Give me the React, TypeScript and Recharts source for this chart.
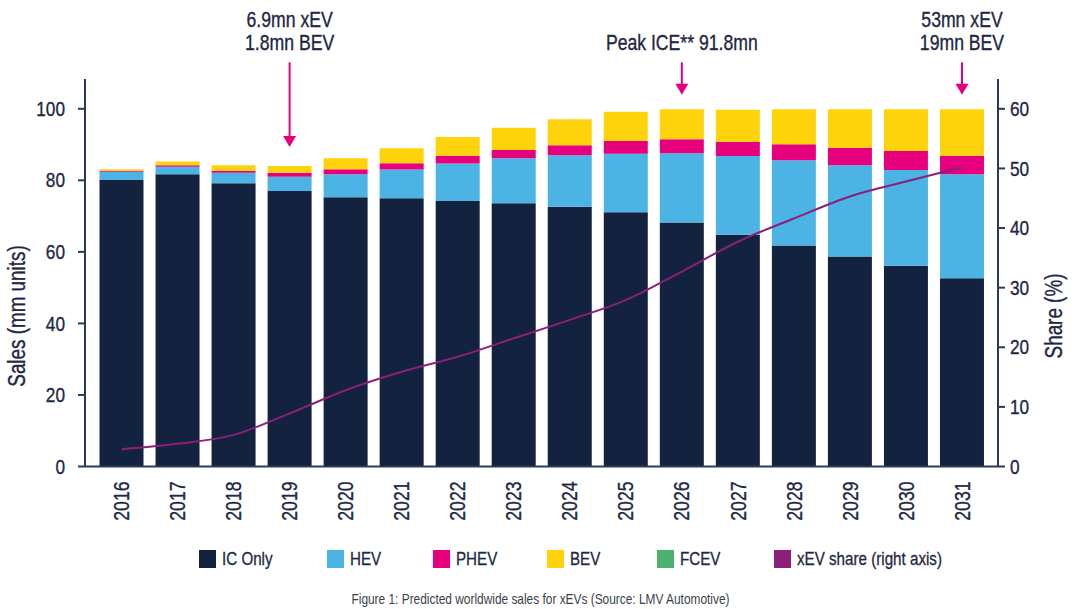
import React from "react";
import {
  Bar,
  ComposedChart,
  Legend,
  Line,
  ReferenceLine,
  XAxis,
  YAxis,
} from "recharts";

const years = [
  "2016", "2017", "2018", "2019", "2020", "2021", "2022", "2023",
  "2024", "2025", "2026", "2027", "2028", "2029", "2030", "2031",
];
// sales in mm units
const icOnly = [80.1, 81.7, 79.2, 77.0, 75.3, 75.0, 74.2, 73.6, 72.6, 71.1, 68.2, 64.8, 61.8, 58.7, 56.1, 52.6];
const hev = [2.3, 2.1, 2.9, 4.0, 6.4, 8.0, 10.5, 12.6, 14.4, 16.3, 19.4, 22.0, 23.8, 25.5, 26.8, 29.1];
const phev = [0.3, 0.4, 0.6, 1.1, 1.4, 1.8, 2.2, 2.3, 2.8, 3.6, 3.9, 3.9, 4.5, 4.9, 5.3, 5.2];
const bev = [0.4, 1.1, 1.5, 1.9, 3.1, 4.2, 5.2, 6.2, 7.3, 8.2, 8.4, 9.0, 9.8, 10.8, 11.7, 13.0];
const fcev = [0, 0, 0, 0, 0, 0, 0, 0, 0, 0, 0, 0, 0, 0, 0, 0];
// xEV share in %, right axis
const xevShare = [2.9, 3.8, 5.3, 8.9, 12.8, 15.9, 18.4, 21.5, 24.6, 27.9, 32.7, 37.7, 41.6, 45.3, 47.8, 50.2];

const salesTicks = [0, 20, 40, 60, 80, 100];
const shareTicks = [0, 10, 20, 30, 40, 50, 60];

const callouts = [
  { year: "2019", lines: ["6.9mn xEV", "1.8mn BEV"], from: 113, to: 89.3 },
  { year: "2026", lines: ["Peak ICE** 91.8mn"], from: 113, to: 103.9 },
  { year: "2031", lines: ["53mn xEV", "19mn BEV"], from: 113, to: 103.9 },
];

const NAVY = "#12223f";
const TEXT = "#1e2743";
const AXIS = "#2e3a55";
const PINK = "#e6007e";
const FONT = "'Liberation Sans', Arial, sans-serif";
// the original uses a condensed face, so squeeze the text horizontally
const SQUEEZE = 0.82;

const series = [
  { key: "ic", name: "IC Only", color: NAVY },
  { key: "hev", name: "HEV", color: "#4bb4e4" },
  { key: "phev", name: "PHEV", color: PINK },
  { key: "bev", name: "BEV", color: "#ffd30b" },
  { key: "fcev", name: "FCEV", color: "#4bb36f" },
];

const data = years.map((year, i) => ({
  year,
  ic: icOnly[i],
  hev: hev[i],
  phev: phev[i],
  bev: bev[i],
  fcev: fcev[i],
  share: xevShare[i],
}));

const NarrowText = ({ x, y, angle = 0, anchor = "start", size = 21, children }: any) => (
  <text
    transform={`translate(${x},${y}) rotate(${angle}) scale(${SQUEEZE},1)`}
    textAnchor={anchor}
    dominantBaseline="central"
    fontSize={size}
    fontFamily={FONT}
    fill={TEXT}
    stroke={TEXT}
    strokeWidth={0.35}
  >
    {children}
  </text>
);

const YearTick = ({ x, y, payload }: any) => (
  <NarrowText x={x} y={y + 15} angle={-90} anchor="end" size={21.5}>
    {payload.value}
  </NarrowText>
);

const ValueTick = ({ x, y, payload, textAnchor }: any) => (
  <NarrowText x={x} y={y} anchor={textAnchor} size={21}>
    {payload.value}
  </NarrowText>
);

const calloutShape = (lines: string[]) => (props: any) => {
  const { x1, y1, x2, y2 } = props;
  return (
    <g>
      <line x1={x1} y1={y1} x2={x2} y2={y2 - 9} stroke={PINK} strokeWidth={2} />
      <polygon
        points={`${x2 - 6.5},${y2 - 11} ${x2 + 6.5},${y2 - 11} ${x2},${y2}`}
        fill={PINK}
      />
      {lines.map((t, i) => (
        <NarrowText
          key={t}
          x={x1}
          y={y1 - 20 - (lines.length - 1 - i) * 22.5}
          anchor="middle"
          size={21.5}
        >
          {t}
        </NarrowText>
      ))}
    </g>
  );
};

const legendWidths = [128, 106, 114, 110, 117, 180];

const squeezed = {
  display: "inline-block",
  transform: `scaleX(${SQUEEZE})`,
  transformOrigin: "left center",
  whiteSpace: "nowrap" as const,
};

const LegendBox = () => {
  const items = [
    ...series.map((s) => ({ name: s.name, color: s.color })),
    { name: "xEV share (right axis)", color: "#8c1f7a" },
  ];
  return (
    <div style={{ height: 67.5, position: "relative", fontFamily: FONT }}>
      <div style={{ position: "absolute", top: 8.5, left: 199, display: "flex" }}>
        {items.map((it, i) => (
          <div
            key={it.name}
            style={{
              width: legendWidths[i],
              flexShrink: 0,
              display: "flex",
              alignItems: "center",
              height: 18,
            }}
          >
            <span
              style={{ width: 17, height: 18, flexShrink: 0, background: it.color, marginRight: 6 }}
            />
            <span
              style={{ ...squeezed, fontSize: 18.5, color: TEXT, WebkitTextStroke: "0.3px " + TEXT }}
            >
              {it.name}
            </span>
          </div>
        ))}
      </div>
      <div style={{ position: "absolute", top: 48.5, left: 0, width: 1080, textAlign: "center" }}>
        <span
          style={{
            ...squeezed,
            transformOrigin: "center center",
            fontSize: 14.5,
            color: "#3a3f4a",
          }}
        >
          Figure 1: Predicted worldwide sales for xEVs (Source: LMV Automotive)
        </span>
      </div>
    </div>
  );
};

const axisTitle = (text: string, cx: number) => ({ viewBox }: any) => (
  <NarrowText x={cx} y={viewBox.y + 237} angle={-90} anchor="middle" size={23}>
    {text}
  </NarrowText>
);

export default function App() {
  return (
    <div style={{ position: "absolute", left: 0, top: 0, width: 1080, height: 609, background: "#fff" }}>
      <ComposedChart
        width={1080}
        height={609}
        data={data}
        margin={{ top: 79, right: 0, bottom: 0, left: 0 }}
      >
        <XAxis
          dataKey="year"
          height={75}
          padding={{ left: 8.5, right: 8 }}
          tickLine={false}
          tickSize={0}
          tickMargin={0}
          interval={0}
          axisLine={{ stroke: AXIS, strokeWidth: 2 }}
          tick={<YearTick />}
        />
        <YAxis
          yAxisId="left"
          width={85}
          domain={[0, 108.33]}
          ticks={salesTicks}
          tickSize={7}
          tickMargin={13}
          axisLine={{ stroke: AXIS, strokeWidth: 2 }}
          tickLine={{ stroke: AXIS, strokeWidth: 2 }}
          tick={<ValueTick />}
          label={axisTitle("Sales (mm units)", 17)}
        />
        <YAxis
          yAxisId="right"
          orientation="right"
          width={82}
          domain={[0, 65]}
          ticks={shareTicks}
          tickSize={7}
          tickMargin={5}
          axisLine={{ stroke: AXIS, strokeWidth: 2 }}
          tickLine={{ stroke: AXIS, strokeWidth: 2 }}
          tick={<ValueTick />}
          label={axisTitle("Share (%)", 1054)}
        />
        <Legend verticalAlign="bottom" content={() => <LegendBox />} />
        {series.map((s) => (
          <Bar
            key={s.key}
            yAxisId="left"
            dataKey={s.key}
            name={s.name}
            stackId="sales"
            fill={s.color}
            barSize={44}
            isAnimationActive={false}
          />
        ))}
        <Line
          yAxisId="right"
          type="monotone"
          dataKey="share"
          name="xEV share (right axis)"
          stroke="#8c1f7a"
          strokeWidth={2}
          dot={false}
          isAnimationActive={false}
        />
        {callouts.map((c) => (
          <ReferenceLine
            key={c.year}
            yAxisId="left"
            ifOverflow="visible"
            segment={[
              { x: c.year, y: c.from },
              { x: c.year, y: c.to },
            ]}
            shape={calloutShape(c.lines)}
          />
        ))}
      </ComposedChart>
    </div>
  );
}
